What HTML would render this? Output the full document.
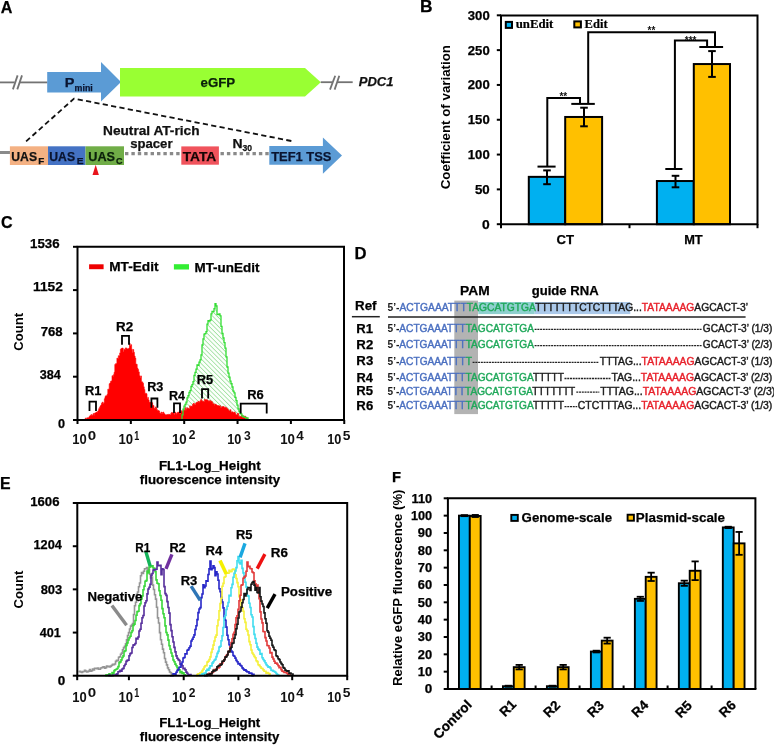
<!DOCTYPE html>
<html><head><meta charset="utf-8"><style>
html,body{margin:0;padding:0;background:#fff;}
svg{display:block;font-family:"Liberation Sans",sans-serif;filter:blur(0.3px);}
</style></head><body>
<svg width="774" height="746" viewBox="0 0 774 746">
<rect x="0" y="0" width="774" height="746" fill="#fff"/>
<text x="0.75" y="13.0" font-family="Liberation Sans" font-size="16" font-weight="bold" fill="#000" textLength="11.64" lengthAdjust="spacingAndGlyphs" stroke="#000" stroke-width="0.25" >A</text>
<line x1="0" y1="82.4" x2="14.6" y2="82.4" stroke="#737373" stroke-width="1.8" />
<line x1="19.2" y1="82.4" x2="47.5" y2="82.4" stroke="#737373" stroke-width="1.8" />
<line x1="12.9" y1="89.4" x2="17.6" y2="75.4" stroke="#737373" stroke-width="1.8" />
<line x1="17.3" y1="89.4" x2="22.0" y2="75.4" stroke="#737373" stroke-width="1.8" />
<path d="M47.2,72 H101 V62.1 L121,82.1 L101,101.5 V92.4 H47.2 Z" fill="#5b9bd5"/>
<text x="64.87" y="87.0" font-family="Liberation Sans" font-size="12.8" font-weight="bold" fill="#0a1430" textLength="9.68" lengthAdjust="spacingAndGlyphs" stroke="#0a1430" stroke-width="0.25" >P</text>
<text x="74.57" y="90.6" font-family="Liberation Sans" font-size="9.5" font-weight="bold" fill="#0a1430" textLength="18.20" lengthAdjust="spacingAndGlyphs" stroke="#0a1430" stroke-width="0.25" >mini</text>
<path d="M120,68 H305 L320.8,82.2 L305,96.6 H120 Z" fill="#99ff33"/>
<text x="200.52" y="87.2" font-family="Liberation Sans" font-size="12.6" font-weight="bold" fill="#0a200a" textLength="34.58" lengthAdjust="spacingAndGlyphs" stroke="#0a200a" stroke-width="0.25" >eGFP</text>
<line x1="320.7" y1="82.2" x2="332.4" y2="82.2" stroke="#737373" stroke-width="1.8" />
<line x1="337.0" y1="82.2" x2="352.7" y2="82.2" stroke="#737373" stroke-width="1.8" />
<line x1="330.0" y1="89.6" x2="335.2" y2="75.7" stroke="#737373" stroke-width="1.8" />
<line x1="334.6" y1="89.6" x2="339.3" y2="75.7" stroke="#737373" stroke-width="1.8" />
<text x="358.72" y="85.6" font-family="Liberation Sans" font-size="13" font-weight="bold" font-style="italic" fill="#111" textLength="34.81" lengthAdjust="spacingAndGlyphs" stroke="#111" stroke-width="0.25" >PDC1</text>
<path d="M26.1,141.4 L74.0,98.6 L291.4,141" fill="none" stroke="#111" stroke-width="1.8" stroke-dasharray="5.2,3.3"/>
<line x1="0" y1="152.5" x2="10" y2="152.5" stroke="#8a8a8a" stroke-width="3" />
<rect x="9.9" y="146.3" width="38.1" height="18.7" fill="#f4b183" stroke="none" stroke-width="0" />
<rect x="48.0" y="146.3" width="37.5" height="18.7" fill="#4472c4" stroke="none" stroke-width="0" />
<rect x="85.5" y="146.3" width="38.5" height="18.7" fill="#70ad47" stroke="none" stroke-width="0" />
<text x="11.32" y="160.6" font-family="Liberation Sans" font-size="13.0" font-weight="bold" fill="#111" textLength="25.70" lengthAdjust="spacingAndGlyphs" stroke="#111" stroke-width="0.25" >UAS</text>
<text x="38.18" y="163.9" font-family="Liberation Sans" font-size="9.8" font-weight="bold" fill="#111" textLength="6.02" lengthAdjust="spacingAndGlyphs" stroke="#111" stroke-width="0.25" >F</text>
<text x="49.32" y="160.6" font-family="Liberation Sans" font-size="13.0" font-weight="bold" fill="#0a1430" textLength="25.70" lengthAdjust="spacingAndGlyphs" stroke="#0a1430" stroke-width="0.25" >UAS</text>
<text x="76.66" y="163.9" font-family="Liberation Sans" font-size="9.8" font-weight="bold" fill="#0a1430" textLength="6.79" lengthAdjust="spacingAndGlyphs" stroke="#0a1430" stroke-width="0.25" >E</text>
<text x="88.29" y="160.6" font-family="Liberation Sans" font-size="13.0" font-weight="bold" fill="#0a200a" textLength="26.75" lengthAdjust="spacingAndGlyphs" stroke="#0a200a" stroke-width="0.25" >UAS</text>
<text x="115.99" y="163.9" font-family="Liberation Sans" font-size="9.8" font-weight="bold" fill="#0a200a" textLength="6.51" lengthAdjust="spacingAndGlyphs" stroke="#0a200a" stroke-width="0.25" >C</text>
<path d="M95.7,164.7 L98.9,174.9 L92.5,174.9 Z" fill="#e8141c"/>
<line x1="125" y1="153.6" x2="181" y2="153.6" stroke="#8a8a8a" stroke-width="3.4" stroke-dasharray="3.4,3.0"/>
<line x1="220.5" y1="153.6" x2="269" y2="153.6" stroke="#8a8a8a" stroke-width="3.4" stroke-dasharray="3.4,3.0"/>
<rect x="181.3" y="146.4" width="37.6" height="18.3" fill="#f0535c" stroke="none" stroke-width="0" />
<text x="182.71" y="160.6" font-family="Liberation Sans" font-size="12.8" font-weight="bold" fill="#150505" textLength="33.59" lengthAdjust="spacingAndGlyphs" stroke="#150505" stroke-width="0.25" >TATA</text>
<text x="103.03" y="134.8" font-family="Liberation Sans" font-size="12.4" font-weight="bold" fill="#111" textLength="96.47" lengthAdjust="spacingAndGlyphs" stroke="#111" stroke-width="0.25" >Neutral AT-rich</text>
<text x="130.19" y="148.0" font-family="Liberation Sans" font-size="12.4" font-weight="bold" fill="#111" textLength="42.35" lengthAdjust="spacingAndGlyphs" stroke="#111" stroke-width="0.25" >spacer</text>
<text x="232.41" y="148.4" font-family="Liberation Sans" font-size="12.6" font-weight="bold" fill="#111" textLength="10.08" lengthAdjust="spacingAndGlyphs" stroke="#111" stroke-width="0.25" >N</text>
<text x="242.46" y="151.3" font-family="Liberation Sans" font-size="8.8" font-weight="bold" fill="#111" textLength="9.56" lengthAdjust="spacingAndGlyphs" stroke="#111" stroke-width="0.25" >30</text>
<path d="M269.3,146 H322.9 V137.6 L342,155.5 L322.9,173.7 V164.8 H269.3 Z" fill="#5b9bd5"/>
<text x="271.22" y="160.7" font-family="Liberation Sans" font-size="12.8" font-weight="bold" fill="#0a1430" textLength="60.25" lengthAdjust="spacingAndGlyphs" stroke="#0a1430" stroke-width="0.25" >TEF1 TSS</text>
<text x="420.08" y="11.9" font-family="Liberation Sans" font-size="16" font-weight="bold" fill="#000" textLength="12.55" lengthAdjust="spacingAndGlyphs" stroke="#000" stroke-width="0.25" >B</text>
<rect x="528.8" y="176.8516" width="36.40000000000009" height="47.3484" fill="#00b0f0" stroke="#000" stroke-width="2" />
<rect x="565.2" y="116.96979999999998" width="36.89999999999998" height="107.23020000000001" fill="#ffc000" stroke="#000" stroke-width="2" />
<rect x="656.9" y="181.02939999999998" width="36.89999999999998" height="43.17060000000001" fill="#00b0f0" stroke="#000" stroke-width="2" />
<rect x="693.8" y="64.05099999999999" width="36.200000000000045" height="160.149" fill="#ffc000" stroke="#000" stroke-width="2" />
<path d="M501,224.2 V15.5 H757.5 V224.2 Z" fill="none" stroke="#000" stroke-width="2"/>
<line x1="496.8" y1="224.2" x2="501" y2="224.2" stroke="#000" stroke-width="2" />
<text x="482.02" y="228.7" font-family="Liberation Sans" font-size="12.8" font-weight="bold" fill="#000" textLength="7.70" lengthAdjust="spacingAndGlyphs" stroke="#000" stroke-width="0.25" >0</text>
<line x1="496.8" y1="189.385" x2="501" y2="189.385" stroke="#000" stroke-width="2" />
<text x="474.94" y="193.88" font-family="Liberation Sans" font-size="12.8" font-weight="bold" fill="#000" textLength="14.77" lengthAdjust="spacingAndGlyphs" stroke="#000" stroke-width="0.25" >50</text>
<line x1="496.8" y1="154.57" x2="501" y2="154.57" stroke="#000" stroke-width="2" />
<text x="467.80" y="159.07" font-family="Liberation Sans" font-size="12.8" font-weight="bold" fill="#000" textLength="21.89" lengthAdjust="spacingAndGlyphs" stroke="#000" stroke-width="0.25" >100</text>
<line x1="496.8" y1="119.75499999999998" x2="501" y2="119.75499999999998" stroke="#000" stroke-width="2" />
<text x="467.80" y="124.25" font-family="Liberation Sans" font-size="12.8" font-weight="bold" fill="#000" textLength="21.89" lengthAdjust="spacingAndGlyphs" stroke="#000" stroke-width="0.25" >150</text>
<line x1="496.8" y1="84.93999999999997" x2="501" y2="84.93999999999997" stroke="#000" stroke-width="2" />
<text x="467.81" y="89.44" font-family="Liberation Sans" font-size="12.8" font-weight="bold" fill="#000" textLength="21.88" lengthAdjust="spacingAndGlyphs" stroke="#000" stroke-width="0.25" >200</text>
<line x1="496.8" y1="50.12499999999997" x2="501" y2="50.12499999999997" stroke="#000" stroke-width="2" />
<text x="467.81" y="54.62" font-family="Liberation Sans" font-size="12.8" font-weight="bold" fill="#000" textLength="21.88" lengthAdjust="spacingAndGlyphs" stroke="#000" stroke-width="0.25" >250</text>
<line x1="496.8" y1="15.309999999999974" x2="501" y2="15.309999999999974" stroke="#000" stroke-width="2" />
<text x="467.81" y="19.81" font-family="Liberation Sans" font-size="12.8" font-weight="bold" fill="#000" textLength="21.88" lengthAdjust="spacingAndGlyphs" stroke="#000" stroke-width="0.25" >300</text>
<line x1="501" y1="224.2" x2="501" y2="228.2" stroke="#000" stroke-width="2" />
<line x1="629.5" y1="224.2" x2="629.5" y2="228.2" stroke="#000" stroke-width="2" />
<line x1="757.5" y1="224.2" x2="757.5" y2="228.2" stroke="#000" stroke-width="2" />
<text x="556.42" y="243.9" font-family="Liberation Sans" font-size="12.6" font-weight="bold" fill="#000" textLength="17.57" lengthAdjust="spacingAndGlyphs" stroke="#000" stroke-width="0.25" >CT</text>
<text x="684.18" y="243.8" font-family="Liberation Sans" font-size="12.6" font-weight="bold" fill="#000" textLength="18.51" lengthAdjust="spacingAndGlyphs" stroke="#000" stroke-width="0.25" >MT</text>
<line x1="547" y1="170.4" x2="547" y2="184.2" stroke="#000" stroke-width="2" />
<line x1="543.2" y1="170.4" x2="550.8" y2="170.4" stroke="#000" stroke-width="2" />
<line x1="543.2" y1="184.2" x2="550.8" y2="184.2" stroke="#000" stroke-width="2" />
<line x1="584" y1="107.7" x2="584" y2="126.3" stroke="#000" stroke-width="2" />
<line x1="580.2" y1="107.7" x2="587.8" y2="107.7" stroke="#000" stroke-width="2" />
<line x1="580.2" y1="126.3" x2="587.8" y2="126.3" stroke="#000" stroke-width="2" />
<line x1="675.5" y1="175.8" x2="675.5" y2="187.3" stroke="#000" stroke-width="2" />
<line x1="671.7" y1="175.8" x2="679.3" y2="175.8" stroke="#000" stroke-width="2" />
<line x1="671.7" y1="187.3" x2="679.3" y2="187.3" stroke="#000" stroke-width="2" />
<line x1="712" y1="51.1" x2="712" y2="76.9" stroke="#000" stroke-width="2" />
<line x1="708.2" y1="51.1" x2="715.8" y2="51.1" stroke="#000" stroke-width="2" />
<line x1="708.2" y1="76.9" x2="715.8" y2="76.9" stroke="#000" stroke-width="2" />
<line x1="537.5" y1="166.6" x2="555.6" y2="166.6" stroke="#000" stroke-width="2" />
<path d="M547.3,166.6 V98 H580 V103.9" fill="none" stroke="#000" stroke-width="2"/>
<line x1="571.3" y1="103.9" x2="594.8" y2="103.9" stroke="#000" stroke-width="2" />
<path d="M588.2,103.9 V32.2 H715 V47" fill="none" stroke="#000" stroke-width="2"/>
<line x1="699.3" y1="47" x2="723.1" y2="47" stroke="#000" stroke-width="2" />
<line x1="665.3" y1="169" x2="682.4" y2="169" stroke="#000" stroke-width="2" />
<path d="M674.9,169 V40.5 H707.1 V47" fill="none" stroke="#000" stroke-width="2"/>
<text x="563.3" y="100.2" font-size="10" font-weight="bold" text-anchor="middle" fill="#111">**</text>
<text x="651.4" y="34.0" font-size="10" font-weight="bold" text-anchor="middle" fill="#111">**</text>
<text x="690.6" y="43.6" font-size="10" font-weight="bold" text-anchor="middle" fill="#111">***</text>
<rect x="505.8" y="21.9" width="6.2" height="6.0" fill="#00b0f0" stroke="#000" stroke-width="2" />
<text x="515.66" y="28.4" font-family="Liberation Serif" font-size="12.2" font-weight="bold" fill="#000" textLength="37.74" lengthAdjust="spacingAndGlyphs" stroke="#000" stroke-width="0.2" >unEdit</text>
<rect x="574.3" y="21.4" width="6.6" height="6.0" fill="#ffc000" stroke="#000" stroke-width="2" />
<text x="584.63" y="28.3" font-family="Liberation Serif" font-size="12.2" font-weight="bold" fill="#000" textLength="22.97" lengthAdjust="spacingAndGlyphs" stroke="#000" stroke-width="0.2" >Edit</text>
<text x="0" y="0" font-size="12.8" font-weight="bold" fill="#000" textLength="144.33" lengthAdjust="spacingAndGlyphs" transform="translate(450.4,189.33) rotate(-90)">Coefficient of variation</text>
<text x="0.91" y="227.6" font-family="Liberation Sans" font-size="16" font-weight="bold" fill="#000" textLength="11.58" lengthAdjust="spacingAndGlyphs" stroke="#000" stroke-width="0.25" >C</text>
<defs><pattern id="hatch" patternUnits="userSpaceOnUse" width="3.2" height="3.2" patternTransform="rotate(-45)"><rect width="3.2" height="3.2" fill="#fbfffb"/><line x1="0" y1="0" x2="0" y2="3.2" stroke="#66cc66" stroke-width="1.0"/></pattern></defs>
<path d="M181.0,420.0H182.0V414.8H183.0V409.1H184.0V406.2H185.0V404.5H186.0V402.2H187.0V397.9H188.0V395.6H189.0V392.3H190.0V390.7H191.0V386.5H192.0V384.7H193.0V381.7H194.0V375.3H195.0V372.3H196.0V369.1H197.0V364.8H198.0V365.4H199.0V362.1H200.0V359.9H201.0V354.8H202.0V345.0H203.0V338.9H204.0V334.1H205.0V333.6H206.0V331.6H207.0V324.1H208.0V320.7H209.0V321.1H210.0V320.1H211.0V313.8H212.0V311.3H213.0V311.7H214.0V308.7H215.0V303.6H216.0V305.8H217.0V314.4H218.0V314.6H219.0V313.9H220.0V315.8H221.0V326.4H222.0V333.4H223.0V338.0H224.0V342.7H225.0V348.1H226.0V356.8H227.0V367.0H228.0V373.2H229.0V377.1H230.0V381.1H231.0V383.7H232.0V387.0H233.0V391.1H234.0V392.9H235.0V397.3H236.0V400.6H237.0V405.2H238.0V408.8H239.0V411.5H240.0V413.3H241.0V414.2H242.0V416.0H243.0V416.3H244.0V417.3H245.0V417.3H246.0V418.0H247.0V418.0H248.0V419.2V420H181.0Z" fill="url(#hatch)" stroke="none"/>
<path d="M84.0,419.3H84.7V420.0H85.4V418.0H86.1V419.4H86.8V417.8H87.5V417.8H88.2V417.8H88.9V416.8H89.6V415.9H90.3V415.3H91.0V414.6H91.7V416.1H92.4V414.9H93.1V413.6H93.8V415.3H94.5V413.1H95.2V413.0H95.9V412.1H96.6V412.5H97.3V411.6H98.0V410.8H98.7V408.7H99.4V407.4H100.1V406.0H100.8V405.0H101.5V403.2H102.2V402.1H102.9V403.8H103.6V402.7H104.3V398.7H105.0V396.6H105.7V395.7H106.4V395.8H107.1V394.3H107.8V389.2H108.5V389.2H109.2V383.8H109.9V383.0H110.6V381.2H111.3V380.9H112.0V375.7H112.7V376.5H113.4V374.7H114.1V372.3H114.8V364.4H115.5V363.7H116.2V363.6H116.9V358.1H117.6V358.8H118.3V355.7H119.0V355.7H119.7V352.9H120.4V349.2H121.1V348.6H121.8V348.0H122.5V348.1H123.2V351.8H123.9V349.2H124.6V349.8H125.3V347.9H126.0V347.9H126.7V348.7H127.4V349.1H128.1V348.8H128.8V348.1H129.5V343.5H130.2V345.7H130.9V344.7H131.6V349.2H132.3V352.4H133.0V349.5H133.7V352.3H134.4V356.0H135.1V358.1H135.8V364.1H136.5V364.3H137.2V368.1H137.9V369.5H138.6V371.9H139.3V375.7H140.0V377.7H140.7V375.9H141.4V381.7H142.1V381.9H142.8V383.3H143.5V386.8H144.2V389.5H144.9V393.4H145.6V393.2H146.3V393.8H147.0V398.7H147.7V397.4H148.4V399.9H149.1V402.3H149.8V402.0H150.5V402.6H151.2V404.6H151.9V402.7H152.6V405.3H153.3V405.6H154.0V408.3H154.7V408.5H155.4V406.9H156.1V408.1H156.8V409.7H157.5V411.1H158.2V410.5H158.9V411.0H159.6V413.0H160.3V413.4H161.0V412.1H161.7V413.9H162.4V412.5H163.1V412.0H163.8V413.5H164.5V414.1H165.2V414.9H165.9V415.1H166.6V414.6H167.3V414.5H168.0V414.4H168.7V414.3H169.4V414.5H170.1V415.1H170.8V413.3H171.5V412.4H172.2V412.8H172.9V412.7H173.6V413.1H174.3V414.4H175.0V412.2H175.7V413.3H176.4V414.3H177.1V412.7H177.8V412.0H178.5V412.5H179.2V411.9H179.9V413.9H180.6V411.7H181.3V410.7H182.0V411.5H182.7V410.9H183.4V409.8H184.1V410.5H184.8V407.6H185.5V410.2H186.2V408.8H186.9V407.7H187.6V409.1H188.3V408.3H189.0V409.0H189.7V405.8H190.4V406.9H191.1V406.1H191.8V406.3H192.5V404.5H193.2V403.3H193.9V404.6H194.6V403.5H195.3V404.8H196.0V402.7H196.7V402.0H197.4V402.2H198.1V401.3H198.8V402.5H199.5V401.6H200.2V400.5H200.9V399.4H201.6V400.7H202.3V401.2H203.0V401.2H203.7V402.0H204.4V399.2H205.1V399.9H205.8V399.9H206.5V399.6H207.2V400.0H207.9V400.7H208.6V401.3H209.3V400.7H210.0V400.6H210.7V401.5H211.4V401.3H212.1V402.2H212.8V403.7H213.5V403.7H214.2V405.3H214.9V404.1H215.6V404.4H216.3V405.0H217.0V405.5H217.7V405.5H218.4V405.7H219.1V406.1H219.8V405.7H220.5V407.4H221.2V407.2H221.9V406.6H222.6V406.8H223.3V406.5H224.0V407.7H224.7V406.9H225.4V407.7H226.1V407.6H226.8V408.5H227.5V409.0H228.2V410.0H228.9V410.9H229.6V410.8H230.3V409.7H231.0V412.2H231.7V412.1H232.4V411.8H233.1V412.6H233.8V412.5H234.5V411.9H235.2V413.6H235.9V415.0H236.6V414.7H237.3V413.4H238.0V413.6H238.7V416.2H239.4V416.5H240.1V416.4H240.8V416.7H241.5V415.3H242.2V417.4H242.9V415.9H243.6V416.1H244.3V417.0H245.0V416.2H245.7V418.9H246.4V417.5H247.1V419.5H247.8V419.6H248.5V420.0V420H84.0Z" fill="#ff0000" stroke="#f00" stroke-width="0.6"/>
<path d="M181.0,420.0H182.0V414.8H183.0V409.1H184.0V406.2H185.0V404.5H186.0V402.2H187.0V397.9H188.0V395.6H189.0V392.3H190.0V390.7H191.0V386.5H192.0V384.7H193.0V381.7H194.0V375.3H195.0V372.3H196.0V369.1H197.0V364.8H198.0V365.4H199.0V362.1H200.0V359.9H201.0V354.8H202.0V345.0H203.0V338.9H204.0V334.1H205.0V333.6H206.0V331.6H207.0V324.1H208.0V320.7H209.0V321.1H210.0V320.1H211.0V313.8H212.0V311.3H213.0V311.7H214.0V308.7H215.0V303.6H216.0V305.8H217.0V314.4H218.0V314.6H219.0V313.9H220.0V315.8H221.0V326.4H222.0V333.4H223.0V338.0H224.0V342.7H225.0V348.1H226.0V356.8H227.0V367.0H228.0V373.2H229.0V377.1H230.0V381.1H231.0V383.7H232.0V387.0H233.0V391.1H234.0V392.9H235.0V397.3H236.0V400.6H237.0V405.2H238.0V408.8H239.0V411.5H240.0V413.3H241.0V414.2H242.0V416.0H243.0V416.3H244.0V417.3H245.0V417.3H246.0V418.0H247.0V418.0H248.0V419.2" fill="none" stroke="#33dd33" stroke-width="1.3"/>
<path d="M77.5,420 V246.8 H344 V420 Z" fill="none" stroke="#000" stroke-width="2"/>
<line x1="73.0" y1="420.0" x2="77.5" y2="420.0" stroke="#000" stroke-width="2" />
<line x1="73.0" y1="376.7" x2="77.5" y2="376.7" stroke="#000" stroke-width="2" />
<line x1="73.0" y1="333.40000000000003" x2="77.5" y2="333.40000000000003" stroke="#000" stroke-width="2" />
<line x1="73.0" y1="290.1" x2="77.5" y2="290.1" stroke="#000" stroke-width="2" />
<line x1="73.0" y1="246.80000000000004" x2="77.5" y2="246.80000000000004" stroke="#000" stroke-width="2" />
<text x="30.02" y="248.3" font-family="Liberation Sans" font-size="13" font-weight="bold" fill="#000" textLength="29.52" lengthAdjust="spacingAndGlyphs" stroke="#000" stroke-width="0.25" >1536</text>
<text x="33.09" y="290.9" font-family="Liberation Sans" font-size="13" font-weight="bold" fill="#000" textLength="29.70" lengthAdjust="spacingAndGlyphs" stroke="#000" stroke-width="0.25" >1152</text>
<text x="40.69" y="336.3" font-family="Liberation Sans" font-size="13" font-weight="bold" fill="#000" textLength="21.97" lengthAdjust="spacingAndGlyphs" stroke="#000" stroke-width="0.25" >768</text>
<text x="39.76" y="379.0" font-family="Liberation Sans" font-size="13" font-weight="bold" fill="#000" textLength="21.16" lengthAdjust="spacingAndGlyphs" stroke="#000" stroke-width="0.25" >384</text>
<text x="57.94" y="427.5" font-family="Liberation Sans" font-size="13" font-weight="bold" fill="#000" textLength="7.03" lengthAdjust="spacingAndGlyphs" stroke="#000" stroke-width="0.25" >0</text>
<line x1="77.5" y1="420" x2="77.5" y2="424" stroke="#000" stroke-width="2" />
<line x1="130.85" y1="420" x2="130.85" y2="424" stroke="#000" stroke-width="2" />
<line x1="184.2" y1="420" x2="184.2" y2="424" stroke="#000" stroke-width="2" />
<line x1="237.55" y1="420" x2="237.55" y2="424" stroke="#000" stroke-width="2" />
<line x1="290.9" y1="420" x2="290.9" y2="424" stroke="#000" stroke-width="2" />
<line x1="344.25" y1="420" x2="344.25" y2="424" stroke="#000" stroke-width="2" />
<text x="72.29" y="444.2" font-family="Liberation Sans" font-size="14" font-weight="bold" fill="#111" textLength="14.46" lengthAdjust="spacingAndGlyphs" stroke="#111" stroke-width="0" >10</text>
<text x="87.69" y="439.6" font-family="Liberation Sans" font-size="13.4" font-weight="bold" fill="#111" textLength="8.43" lengthAdjust="spacingAndGlyphs" stroke="#111" stroke-width="0" >0</text>
<text x="118.58" y="444.2" font-family="Liberation Sans" font-size="14" font-weight="bold" fill="#111" textLength="14.57" lengthAdjust="spacingAndGlyphs" stroke="#111" stroke-width="0" >10</text>
<text x="134.34" y="439.8" font-family="Liberation Sans" font-size="13.4" font-weight="bold" fill="#111" textLength="5.02" lengthAdjust="spacingAndGlyphs" stroke="#111" stroke-width="0" >1</text>
<text x="171.97" y="444.2" font-family="Liberation Sans" font-size="14" font-weight="bold" fill="#111" textLength="14.79" lengthAdjust="spacingAndGlyphs" stroke="#111" stroke-width="0" >10</text>
<text x="188.68" y="439.4" font-family="Liberation Sans" font-size="13.4" font-weight="bold" fill="#111" textLength="6.69" lengthAdjust="spacingAndGlyphs" stroke="#111" stroke-width="0" >2</text>
<text x="227.21" y="444.2" font-family="Liberation Sans" font-size="14" font-weight="bold" fill="#111" textLength="14.13" lengthAdjust="spacingAndGlyphs" stroke="#111" stroke-width="0" >10</text>
<text x="244.03" y="439.5" font-family="Liberation Sans" font-size="13.4" font-weight="bold" fill="#111" textLength="6.71" lengthAdjust="spacingAndGlyphs" stroke="#111" stroke-width="0" >3</text>
<text x="280.17" y="444.2" font-family="Liberation Sans" font-size="14" font-weight="bold" fill="#111" textLength="14.79" lengthAdjust="spacingAndGlyphs" stroke="#111" stroke-width="0" >10</text>
<text x="296.30" y="440.0" font-family="Liberation Sans" font-size="13.4" font-weight="bold" fill="#111" textLength="7.48" lengthAdjust="spacingAndGlyphs" stroke="#111" stroke-width="0" >4</text>
<text x="327.31" y="444.2" font-family="Liberation Sans" font-size="14" font-weight="bold" fill="#111" textLength="14.13" lengthAdjust="spacingAndGlyphs" stroke="#111" stroke-width="0" >10</text>
<text x="342.88" y="440.0" font-family="Liberation Sans" font-size="13.4" font-weight="bold" fill="#111" textLength="7.71" lengthAdjust="spacingAndGlyphs" stroke="#111" stroke-width="0" >5</text>
<rect x="89.1" y="264.3" width="14.5" height="4.9" fill="#ee0000" stroke="none" stroke-width="0" />
<text x="109.23" y="271.3" font-family="Liberation Sans" font-size="12.8" font-weight="bold" fill="#000" textLength="49.30" lengthAdjust="spacingAndGlyphs" stroke="#000" stroke-width="0.25" >MT-Edit</text>
<rect x="173.9" y="264.2" width="15.1" height="5.3" fill="#33ee33" stroke="none" stroke-width="0" />
<text x="194.44" y="271.6" font-family="Liberation Sans" font-size="12.8" font-weight="bold" fill="#000" textLength="64.97" lengthAdjust="spacingAndGlyphs" stroke="#000" stroke-width="0.25" >MT-unEdit</text>
<text x="0" y="0" font-size="13" font-weight="bold" fill="#000" textLength="37.89" lengthAdjust="spacingAndGlyphs" transform="translate(22.8,350.82) rotate(-90)">Count</text>
<text x="158.95" y="469.5" font-family="Liberation Sans" font-size="12.6" font-weight="bold" fill="#000" textLength="101.78" lengthAdjust="spacingAndGlyphs" stroke="#000" stroke-width="0.25" >FL1-Log_Height</text>
<text x="139.82" y="484.4" font-family="Liberation Sans" font-size="12.6" font-weight="bold" fill="#000" textLength="140.22" lengthAdjust="spacingAndGlyphs" stroke="#000" stroke-width="0.25" >fluorescence intensity</text>
<path d="M89.5,411 V401.6 H96 V411" fill="none" stroke="#000" stroke-width="1.8"/>
<path d="M122,344.8 V335.9 H129 V344.8" fill="none" stroke="#000" stroke-width="1.8"/>
<path d="M151.4,407.8 V398.5 H157.4 V407.8" fill="none" stroke="#000" stroke-width="1.8"/>
<path d="M174,413 V403.3 H180 V413" fill="none" stroke="#000" stroke-width="1.8"/>
<path d="M202,398.5 V389.2 H208.2 V398.5" fill="none" stroke="#000" stroke-width="1.8"/>
<path d="M240.7,413.5 V403.7 H266.7 V413.5" fill="none" stroke="#000" stroke-width="1.8"/>
<text x="85.08" y="395.4" font-family="Liberation Sans" font-size="12.8" font-weight="bold" fill="#000" textLength="16.43" lengthAdjust="spacingAndGlyphs" stroke="#000" stroke-width="0.25" >R1</text>
<text x="116.05" y="331" font-family="Liberation Sans" font-size="12.8" font-weight="bold" fill="#000" textLength="17.12" lengthAdjust="spacingAndGlyphs" stroke="#000" stroke-width="0.25" >R2</text>
<text x="147.20" y="390.7" font-family="Liberation Sans" font-size="12.8" font-weight="bold" fill="#000" textLength="16.10" lengthAdjust="spacingAndGlyphs" stroke="#000" stroke-width="0.25" >R3</text>
<text x="168.90" y="400" font-family="Liberation Sans" font-size="12.8" font-weight="bold" fill="#000" textLength="16.02" lengthAdjust="spacingAndGlyphs" stroke="#000" stroke-width="0.25" >R4</text>
<text x="196.78" y="384" font-family="Liberation Sans" font-size="12.8" font-weight="bold" fill="#000" textLength="16.43" lengthAdjust="spacingAndGlyphs" stroke="#000" stroke-width="0.25" >R5</text>
<text x="247.28" y="399.4" font-family="Liberation Sans" font-size="12.8" font-weight="bold" fill="#000" textLength="16.54" lengthAdjust="spacingAndGlyphs" stroke="#000" stroke-width="0.25" >R6</text>
<text x="354.53" y="259.4" font-family="Liberation Sans" font-size="16" font-weight="bold" fill="#000" textLength="12.03" lengthAdjust="spacingAndGlyphs" stroke="#000" stroke-width="0.25" >D</text>
<rect x="454.3" y="300.6" width="23.7" height="113.5" fill="#b3b3b3" stroke="none" stroke-width="0" />
<rect x="478.3" y="302.0" width="56.4" height="12.1" fill="#8fd0cf" stroke="none" stroke-width="0" />
<rect x="534.7" y="302.0" width="95.6" height="12.1" fill="#abc9ea" stroke="none" stroke-width="0" />
<text x="460.02" y="295.2" font-family="Liberation Sans" font-size="12.8" font-weight="bold" fill="#000" textLength="29.63" lengthAdjust="spacingAndGlyphs" stroke="#000" stroke-width="0.25" >PAM</text>
<text x="531.73" y="295.2" font-family="Liberation Sans" font-size="12.8" font-weight="bold" fill="#000" textLength="66.86" lengthAdjust="spacingAndGlyphs" stroke="#000" stroke-width="0.25" >guide RNA</text>
<text x="355.05" y="310.3" font-family="Liberation Sans" font-size="13" font-weight="bold" fill="#000" textLength="21.48" lengthAdjust="spacingAndGlyphs" stroke="#000" stroke-width="0.25" >Ref</text>
<line x1="351.9" y1="316.7" x2="379.8" y2="316.7" stroke="#222" stroke-width="1.5" />
<line x1="388.0" y1="316.9" x2="745.6" y2="316.9" stroke="#222" stroke-width="1.5" />
<text x="387.49" y="311.2" font-size="10.2" textLength="360.56" lengthAdjust="spacingAndGlyphs" xml:space="preserve"><tspan fill="#1a1a1a" font-weight="bold" stroke="#1a1a1a" stroke-width="0">5’-</tspan><tspan fill="#4a6fc0" font-weight="normal" stroke="#4a6fc0" stroke-width="0.4">ACTGAAATTT</tspan><tspan fill="#1fa85a" font-weight="normal" stroke="#1fa85a" stroke-width="0.4">TAGCATGTGA</tspan><tspan fill="#1a1a1a" font-weight="normal" stroke="#1a1a1a" stroke-width="0.4">TTTTTTTCTCTTTAG...</tspan><tspan fill="#e8202a" font-weight="normal" stroke="#e8202a" stroke-width="0.4">TATAAAAG</tspan><tspan fill="#1a1a1a" font-weight="normal" stroke="#1a1a1a" stroke-width="0.4">AGCACT-3’</tspan></text>
<text x="356.37" y="333.0" font-family="Liberation Sans" font-size="13" font-weight="bold" fill="#000" textLength="16.76" lengthAdjust="spacingAndGlyphs" stroke="#000" stroke-width="0.25" >R1</text>
<text x="387.49" y="331.8" font-size="10.2" textLength="146.53" lengthAdjust="spacingAndGlyphs" xml:space="preserve"><tspan fill="#1a1a1a" font-weight="bold" stroke="#1a1a1a" stroke-width="0">5’-</tspan><tspan fill="#4a6fc0" font-weight="normal" stroke="#4a6fc0" stroke-width="0.4">ACTGAAATTT</tspan><tspan fill="#1fa85a" font-weight="normal" stroke="#1fa85a" stroke-width="0.4">TAGCATGTGA</tspan></text>
<line x1="534.6" y1="329.4" x2="701.7" y2="329.4" stroke="#222" stroke-width="1.3" stroke-dasharray="2.0,0.75"/>
<text x="702.79" y="331.8" font-size="10.2" textLength="69.52" lengthAdjust="spacingAndGlyphs" xml:space="preserve"><tspan fill="#1a1a1a" font-weight="normal" stroke="#1a1a1a" stroke-width="0.4">GCACT-3’ (1/3)</tspan></text>
<text x="356.36" y="348.7" font-family="Liberation Sans" font-size="13" font-weight="bold" fill="#000" textLength="16.90" lengthAdjust="spacingAndGlyphs" stroke="#000" stroke-width="0.25" >R2</text>
<text x="387.49" y="348.0" font-size="10.2" textLength="146.53" lengthAdjust="spacingAndGlyphs" xml:space="preserve"><tspan fill="#1a1a1a" font-weight="bold" stroke="#1a1a1a" stroke-width="0">5’-</tspan><tspan fill="#4a6fc0" font-weight="normal" stroke="#4a6fc0" stroke-width="0.4">ACTGAAATTT</tspan><tspan fill="#1fa85a" font-weight="normal" stroke="#1fa85a" stroke-width="0.4">TAGCATGTGA</tspan></text>
<line x1="534.6" y1="345.6" x2="701.7" y2="345.6" stroke="#222" stroke-width="1.3" stroke-dasharray="2.0,0.75"/>
<text x="702.79" y="348.0" font-size="10.2" textLength="69.52" lengthAdjust="spacingAndGlyphs" xml:space="preserve"><tspan fill="#1a1a1a" font-weight="normal" stroke="#1a1a1a" stroke-width="0.4">GCACT-3’ (2/3)</tspan></text>
<text x="356.36" y="365.4" font-family="Liberation Sans" font-size="13" font-weight="bold" fill="#000" textLength="16.86" lengthAdjust="spacingAndGlyphs" stroke="#000" stroke-width="0.25" >R3</text>
<text x="387.49" y="364.7" font-size="10.2" textLength="84.46" lengthAdjust="spacingAndGlyphs" xml:space="preserve"><tspan fill="#1a1a1a" font-weight="bold" stroke="#1a1a1a" stroke-width="0">5’-</tspan><tspan fill="#4a6fc0" font-weight="normal" stroke="#4a6fc0" stroke-width="0.4">ACTGAAATTT</tspan><tspan fill="#1fa85a" font-weight="normal" stroke="#1fa85a" stroke-width="0.4">T</tspan></text>
<line x1="472.6" y1="362.3" x2="598.9" y2="362.3" stroke="#222" stroke-width="1.3" stroke-dasharray="2.0,0.75"/>
<text x="599.87" y="364.7" font-size="10.2" textLength="172.47" lengthAdjust="spacingAndGlyphs" xml:space="preserve"><tspan fill="#1a1a1a" font-weight="normal" stroke="#1a1a1a" stroke-width="0.4">TTTAG...</tspan><tspan fill="#e8202a" font-weight="normal" stroke="#e8202a" stroke-width="0.4">TATAAAAG</tspan><tspan fill="#1a1a1a" font-weight="normal" stroke="#1a1a1a" stroke-width="0.4">AGCACT-3’</tspan><tspan fill="#1a1a1a" font-weight="normal" stroke="#1a1a1a" stroke-width="0.4"> (1/3)</tspan></text>
<text x="356.38" y="381.6" font-family="Liberation Sans" font-size="13" font-weight="bold" fill="#000" textLength="16.44" lengthAdjust="spacingAndGlyphs" stroke="#000" stroke-width="0.25" >R4</text>
<text x="387.49" y="380.9" font-size="10.2" textLength="176.46" lengthAdjust="spacingAndGlyphs" xml:space="preserve"><tspan fill="#1a1a1a" font-weight="bold" stroke="#1a1a1a" stroke-width="0">5’-</tspan><tspan fill="#4a6fc0" font-weight="normal" stroke="#4a6fc0" stroke-width="0.4">ACTGAAATTT</tspan><tspan fill="#1fa85a" font-weight="normal" stroke="#1fa85a" stroke-width="0.4">TAGCATGTGA</tspan><tspan fill="#1a1a1a" font-weight="normal" stroke="#1a1a1a" stroke-width="0.4">TTTTT</tspan></text>
<line x1="564.5" y1="378.5" x2="610.6" y2="378.5" stroke="#222" stroke-width="1.3" stroke-dasharray="2.0,0.75"/>
<text x="611.57" y="380.9" font-size="10.2" textLength="160.75" lengthAdjust="spacingAndGlyphs" xml:space="preserve"><tspan fill="#1a1a1a" font-weight="normal" stroke="#1a1a1a" stroke-width="0.4">TAG...</tspan><tspan fill="#e8202a" font-weight="normal" stroke="#e8202a" stroke-width="0.4">TATAAAAG</tspan><tspan fill="#1a1a1a" font-weight="normal" stroke="#1a1a1a" stroke-width="0.4">AGCACT-3’</tspan><tspan fill="#1a1a1a" font-weight="normal" stroke="#1a1a1a" stroke-width="0.4"> (2/3)</tspan></text>
<text x="356.37" y="395.3" font-family="Liberation Sans" font-size="13" font-weight="bold" fill="#000" textLength="16.76" lengthAdjust="spacingAndGlyphs" stroke="#000" stroke-width="0.25" >R5</text>
<text x="387.50" y="394.6" font-size="10.2" textLength="187.74" lengthAdjust="spacingAndGlyphs" xml:space="preserve"><tspan fill="#1a1a1a" font-weight="bold" stroke="#1a1a1a" stroke-width="0">5’-</tspan><tspan fill="#4a6fc0" font-weight="normal" stroke="#4a6fc0" stroke-width="0.4">ACTGAAATTT</tspan><tspan fill="#1fa85a" font-weight="normal" stroke="#1fa85a" stroke-width="0.4">TAGCATGTGA</tspan><tspan fill="#1a1a1a" font-weight="normal" stroke="#1a1a1a" stroke-width="0.4">TTTTTTT</tspan></text>
<line x1="576.3" y1="392.2" x2="599.3" y2="392.2" stroke="#222" stroke-width="1.3" stroke-dasharray="2.0,0.75"/>
<text x="600.26" y="394.6" font-size="10.2" textLength="175.08" lengthAdjust="spacingAndGlyphs" xml:space="preserve"><tspan fill="#1a1a1a" font-weight="normal" stroke="#1a1a1a" stroke-width="0.4">TTTAG...</tspan><tspan fill="#e8202a" font-weight="normal" stroke="#e8202a" stroke-width="0.4">TATAAAAG</tspan><tspan fill="#1a1a1a" font-weight="normal" stroke="#1a1a1a" stroke-width="0.4">AGCACT-3’</tspan><tspan fill="#1a1a1a" font-weight="normal" stroke="#1a1a1a" stroke-width="0.4"> (2/3)</tspan></text>
<text x="356.36" y="409.8" font-family="Liberation Sans" font-size="13" font-weight="bold" fill="#000" textLength="16.86" lengthAdjust="spacingAndGlyphs" stroke="#000" stroke-width="0.25" >R6</text>
<text x="387.49" y="409.1" font-size="10.2" textLength="176.46" lengthAdjust="spacingAndGlyphs" xml:space="preserve"><tspan fill="#1a1a1a" font-weight="bold" stroke="#1a1a1a" stroke-width="0">5’-</tspan><tspan fill="#4a6fc0" font-weight="normal" stroke="#4a6fc0" stroke-width="0.4">ACTGAAATTT</tspan><tspan fill="#1fa85a" font-weight="normal" stroke="#1fa85a" stroke-width="0.4">TAGCATGTGA</tspan><tspan fill="#1a1a1a" font-weight="normal" stroke="#1a1a1a" stroke-width="0.4">TTTTT</tspan></text>
<line x1="564.5" y1="406.7" x2="577.2" y2="406.7" stroke="#222" stroke-width="1.3" stroke-dasharray="2.0,0.75"/>
<text x="577.88" y="409.1" font-size="10.2" textLength="194.46" lengthAdjust="spacingAndGlyphs" xml:space="preserve"><tspan fill="#1a1a1a" font-weight="normal" stroke="#1a1a1a" stroke-width="0.4">CTCTTTAG...</tspan><tspan fill="#e8202a" font-weight="normal" stroke="#e8202a" stroke-width="0.4">TATAAAAG</tspan><tspan fill="#1a1a1a" font-weight="normal" stroke="#1a1a1a" stroke-width="0.4">AGCACT-3’</tspan><tspan fill="#1a1a1a" font-weight="normal" stroke="#1a1a1a" stroke-width="0.4"> (1/3)</tspan></text>
<text x="-0.02" y="488.9" font-family="Liberation Sans" font-size="16" font-weight="bold" fill="#000" textLength="10.60" lengthAdjust="spacingAndGlyphs" stroke="#000" stroke-width="0.25" >E</text>
<path d="M78.5,671.8H79.5V671.3H80.5V672.0H81.5V672.4H82.5V671.6H83.5V671.5H84.5V670.3H85.5V671.1H86.5V671.9H87.5V671.6H88.5V671.1H89.5V669.5H90.5V671.1H91.5V670.8H92.5V669.0H93.5V669.9H94.5V668.3H95.5V668.3H96.5V668.6H97.5V668.0H98.5V669.3H99.5V669.3H100.5V668.0H101.5V667.8H102.5V667.1H103.5V666.8H104.5V668.1H105.5V667.6H106.5V666.0H107.5V666.8H108.5V666.2H109.5V666.9H110.5V666.1H111.5V665.2H112.5V664.4H113.5V664.7H114.5V664.0H115.5V661.4H116.5V660.2H117.5V660.6H118.5V657.2H119.5V656.7H120.5V654.2H121.5V653.1H122.5V649.7H123.5V647.6H124.5V646.3H125.5V643.7H126.5V639.8H127.5V635.5H128.5V632.6H129.5V629.0H130.5V626.1H131.5V625.1H132.5V623.5H133.5V614.5H134.5V605.7H135.5V602.2H136.5V594.2H137.5V592.0H138.5V586.8H139.5V583.0H140.5V575.8H141.5V572.6H142.5V573.4H143.5V571.2H144.5V568.8H145.5V568.8H146.5V567.6H147.5V571.7H148.5V569.2H149.5V574.1H150.5V578.0H151.5V577.0H152.5V585.1H153.5V589.5H154.5V594.8H155.5V599.1H156.5V607.3H157.5V617.9H158.5V623.0H159.5V632.6H160.5V639.8H161.5V644.3H162.5V649.1H163.5V652.8H164.5V658.5H165.5V662.1H166.5V664.9H167.5V667.9H168.5V669.7H169.5V672.0H170.5V672.7H171.5V675.3H172.5V675.4" fill="none" stroke="#959595" stroke-width="1.6"/>
<path d="M105.0,675.0H106.0V675.7H107.0V674.8H108.0V675.2H109.0V673.9H110.0V675.4H111.0V675.0H112.0V672.5H113.0V673.5H114.0V670.6H115.0V669.7H116.0V669.2H117.0V668.5H118.0V666.6H119.0V662.6H120.0V661.9H121.0V659.9H122.0V657.5H123.0V655.9H124.0V651.4H125.0V650.7H126.0V645.4H127.0V642.9H128.0V640.0H129.0V637.8H130.0V636.3H131.0V632.5H132.0V630.8H133.0V625.4H134.0V624.1H135.0V620.5H136.0V615.2H137.0V611.6H138.0V611.3H139.0V605.6H140.0V603.7H141.0V599.0H142.0V595.9H143.0V589.7H144.0V586.1H145.0V581.2H146.0V580.6H147.0V571.0H148.0V573.0H149.0V567.3H150.0V566.7H151.0V566.6H152.0V565.8H153.0V568.0H154.0V568.2H155.0V571.8H156.0V579.9H157.0V583.3H158.0V583.8H159.0V590.7H160.0V595.5H161.0V600.2H162.0V608.6H163.0V613.8H164.0V617.7H165.0V625.9H166.0V632.5H167.0V634.9H168.0V640.1H169.0V645.8H170.0V649.3H171.0V653.0H172.0V656.1H173.0V660.0H174.0V661.7H175.0V664.1H176.0V665.8H177.0V667.8H178.0V670.3H179.0V669.9H180.0V672.6H181.0V671.5H182.0V673.4H183.0V672.8H184.0V674.7H185.0V675.2H186.0V675.7H187.0V675.7" fill="none" stroke="#3ad63a" stroke-width="1.6"/>
<path d="M108.0,675.7H109.0V675.1H110.0V675.7H111.0V675.7H112.0V675.7H113.0V675.0H114.0V675.1H115.0V675.1H116.0V674.3H117.0V673.9H118.0V671.8H119.0V671.6H120.0V670.3H121.0V671.2H122.0V669.0H123.0V668.4H124.0V665.7H125.0V664.2H126.0V661.4H127.0V660.4H128.0V660.1H129.0V655.7H130.0V653.6H131.0V653.0H132.0V647.5H133.0V645.1H134.0V644.7H135.0V643.5H136.0V638.3H137.0V639.0H138.0V637.0H139.0V631.0H140.0V629.2H141.0V623.2H142.0V617.8H143.0V615.5H144.0V606.0H145.0V602.8H146.0V600.8H147.0V593.9H148.0V589.0H149.0V587.3H150.0V584.2H151.0V575.2H152.0V573.5H153.0V570.1H154.0V569.5H155.0V569.7H156.0V569.2H157.0V562.1H158.0V565.8H159.0V565.6H160.0V565.4H161.0V574.7H162.0V568.9H163.0V569.5H164.0V586.6H165.0V593.6H166.0V595.4H167.0V601.6H168.0V607.5H169.0V613.1H170.0V624.6H171.0V630.6H172.0V636.7H173.0V642.0H174.0V647.4H175.0V651.9H176.0V655.9H177.0V658.3H178.0V659.6H179.0V660.5H180.0V664.5H181.0V664.7H182.0V665.8H183.0V668.7H184.0V668.3H185.0V669.9H186.0V672.1H187.0V673.2H188.0V675.1H189.0V674.8H190.0V674.6H191.0V675.7" fill="none" stroke="#552e9c" stroke-width="1.6"/>
<path d="M170.0,675.7H171.0V675.7H172.0V675.7H173.0V673.9H174.0V673.8H175.0V674.3H176.0V672.2H177.0V670.4H178.0V669.5H179.0V667.3H180.0V667.1H181.0V663.8H182.0V662.0H183.0V658.0H184.0V657.5H185.0V653.8H186.0V653.9H187.0V650.2H188.0V649.6H189.0V647.8H190.0V646.1H191.0V641.0H192.0V639.2H193.0V637.2H194.0V634.9H195.0V629.5H196.0V625.8H197.0V619.6H198.0V612.6H199.0V609.0H200.0V607.6H201.0V597.6H202.0V594.0H203.0V584.7H204.0V587.7H205.0V586.0H206.0V580.7H207.0V581.2H208.0V574.5H209.0V568.9H210.0V561.1H211.0V569.8H212.0V568.5H213.0V565.7H214.0V567.6H215.0V575.7H216.0V571.8H217.0V574.0H218.0V580.2H219.0V588.7H220.0V591.8H221.0V597.4H222.0V602.0H223.0V607.9H224.0V617.5H225.0V620.2H226.0V627.1H227.0V635.3H228.0V639.7H229.0V644.8H230.0V647.9H231.0V651.0H232.0V652.1H233.0V655.5H234.0V656.2H235.0V658.1H236.0V660.4H237.0V661.8H238.0V663.9H239.0V663.5H240.0V665.2H241.0V666.0H242.0V667.9H243.0V669.0H244.0V670.1H245.0V669.9H246.0V671.1H247.0V671.9H248.0V671.7H249.0V673.3H250.0V673.1H251.0V673.3H252.0V675.7H253.0V674.4H254.0V675.7" fill="none" stroke="#2626c8" stroke-width="1.6"/>
<path d="M196.0,675.7H197.0V674.5H198.0V673.7H199.0V673.7H200.0V672.8H201.0V672.4H202.0V670.6H203.0V669.1H204.0V667.0H205.0V665.7H206.0V665.6H207.0V662.1H208.0V661.3H209.0V659.5H210.0V656.9H211.0V652.4H212.0V649.1H213.0V645.1H214.0V641.0H215.0V637.1H216.0V635.1H217.0V625.8H218.0V620.0H219.0V610.8H220.0V603.5H221.0V598.3H222.0V586.2H223.0V583.4H224.0V577.2H225.0V576.5H226.0V572.6H227.0V573.2H228.0V573.3H229.0V570.4H230.0V571.8H231.0V571.5H232.0V569.5H233.0V569.0H234.0V569.7H235.0V574.7H236.0V578.5H237.0V582.6H238.0V586.7H239.0V596.8H240.0V599.8H241.0V606.5H242.0V607.9H243.0V611.2H244.0V618.7H245.0V622.4H246.0V629.3H247.0V630.9H248.0V635.0H249.0V641.6H250.0V644.8H251.0V650.0H252.0V653.0H253.0V654.5H254.0V656.4H255.0V657.8H256.0V660.7H257.0V661.6H258.0V664.7H259.0V665.4H260.0V666.7H261.0V668.2H262.0V668.5H263.0V669.9H264.0V671.2H265.0V671.3H266.0V673.1H267.0V672.5H268.0V673.2H269.0V673.9H270.0V675.7" fill="none" stroke="#f5f03a" stroke-width="1.6"/>
<path d="M199.0,675.1H200.0V675.5H201.0V675.3H202.0V673.9H203.0V674.1H204.0V673.1H205.0V673.1H206.0V670.8H207.0V669.4H208.0V670.2H209.0V668.1H210.0V665.7H211.0V666.0H212.0V663.1H213.0V661.8H214.0V660.2H215.0V659.4H216.0V656.6H217.0V653.4H218.0V651.4H219.0V647.1H220.0V646.2H221.0V640.8H222.0V635.7H223.0V627.5H224.0V617.9H225.0V615.5H226.0V609.5H227.0V606.3H228.0V602.5H229.0V595.3H230.0V595.9H231.0V587.8H232.0V584.4H233.0V577.2H234.0V573.2H235.0V571.0H236.0V567.6H237.0V560.7H238.0V556.6H239.0V562.7H240.0V564.0H241.0V560.4H242.0V568.4H243.0V572.9H244.0V577.5H245.0V582.2H246.0V586.9H247.0V595.5H248.0V596.1H249.0V603.3H250.0V607.5H251.0V614.8H252.0V617.0H253.0V626.6H254.0V634.4H255.0V638.5H256.0V643.2H257.0V647.1H258.0V649.1H259.0V650.1H260.0V654.1H261.0V653.5H262.0V657.7H263.0V659.5H264.0V660.9H265.0V662.7H266.0V664.6H267.0V665.8H268.0V667.3H269.0V666.7H270.0V668.0H271.0V670.2H272.0V670.4H273.0V671.1H274.0V671.5H275.0V672.2H276.0V673.5H277.0V674.5H278.0V675.3H279.0V675.7H280.0V675.7" fill="none" stroke="#3fdcef" stroke-width="1.6"/>
<path d="M206.0,675.3H207.0V675.2H208.0V674.0H209.0V673.2H210.0V674.1H211.0V673.2H212.0V672.4H213.0V671.6H214.0V669.6H215.0V669.5H216.0V670.0H217.0V667.0H218.0V668.0H219.0V667.0H220.0V663.8H221.0V664.1H222.0V662.6H223.0V661.3H224.0V659.5H225.0V657.3H226.0V655.6H227.0V654.5H228.0V651.9H229.0V650.8H230.0V646.8H231.0V642.5H232.0V638.7H233.0V634.2H234.0V632.3H235.0V624.5H236.0V617.9H237.0V615.8H238.0V609.3H239.0V600.8H240.0V595.3H241.0V585.3H242.0V584.8H243.0V578.2H244.0V577.1H245.0V576.0H246.0V571.3H247.0V562.1H248.0V566.6H249.0V566.3H250.0V568.5H251.0V568.7H252.0V572.0H253.0V572.8H254.0V580.8H255.0V583.9H256.0V586.9H257.0V585.0H258.0V591.4H259.0V598.7H260.0V611.9H261.0V619.0H262.0V622.9H263.0V631.5H264.0V631.7H265.0V637.6H266.0V641.0H267.0V645.5H268.0V645.7H269.0V648.0H270.0V653.0H271.0V652.5H272.0V657.1H273.0V659.0H274.0V661.2H275.0V663.1H276.0V663.0H277.0V664.3H278.0V665.7H279.0V667.8H280.0V667.4H281.0V669.7H282.0V671.1H283.0V671.5H284.0V672.5H285.0V672.3H286.0V672.8H287.0V673.5H288.0V675.1H289.0V674.3H290.0V675.6" fill="none" stroke="#e23a3a" stroke-width="1.6"/>
<path d="M204.0,675.7H205.0V675.4H206.0V675.7H207.0V674.2H208.0V675.2H209.0V674.6H210.0V673.9H211.0V673.9H212.0V671.7H213.0V670.4H214.0V670.9H215.0V670.5H216.0V669.4H217.0V666.7H218.0V666.0H219.0V665.4H220.0V665.2H221.0V664.4H222.0V661.3H223.0V661.1H224.0V659.7H225.0V657.1H226.0V656.7H227.0V655.0H228.0V651.4H229.0V652.0H230.0V648.6H231.0V647.2H232.0V643.4H233.0V643.0H234.0V638.2H235.0V634.6H236.0V628.8H237.0V624.3H238.0V618.0H239.0V612.0H240.0V611.0H241.0V607.1H242.0V602.7H243.0V599.5H244.0V593.6H245.0V595.9H246.0V593.6H247.0V589.4H248.0V587.5H249.0V587.5H250.0V590.5H251.0V584.2H252.0V582.5H253.0V581.6H254.0V585.1H255.0V590.1H256.0V587.6H257.0V592.5H258.0V593.0H259.0V587.5H260.0V596.8H261.0V601.1H262.0V604.0H263.0V606.5H264.0V612.9H265.0V618.7H266.0V623.2H267.0V630.7H268.0V632.3H269.0V636.3H270.0V638.2H271.0V640.3H272.0V645.4H273.0V647.2H274.0V649.8H275.0V650.5H276.0V655.7H277.0V656.5H278.0V658.7H279.0V659.6H280.0V662.0H281.0V663.6H282.0V664.7H283.0V667.6H284.0V668.2H285.0V670.1H286.0V670.8H287.0V671.2H288.0V670.8H289.0V673.1H290.0V673.0H291.0V674.0H292.0V674.0H293.0V675.0" fill="none" stroke="#151515" stroke-width="1.6"/>
<path d="M77.3,675.7 V503 H347.2 V675.7 Z" fill="none" stroke="#000" stroke-width="2"/>
<line x1="72.8" y1="675.7" x2="77.3" y2="675.7" stroke="#000" stroke-width="2" />
<line x1="72.8" y1="632.5787671232877" x2="77.3" y2="632.5787671232877" stroke="#000" stroke-width="2" />
<line x1="72.8" y1="589.35" x2="77.3" y2="589.35" stroke="#000" stroke-width="2" />
<line x1="72.8" y1="546.2287671232878" x2="77.3" y2="546.2287671232878" stroke="#000" stroke-width="2" />
<line x1="72.8" y1="503.0" x2="77.3" y2="503.0" stroke="#000" stroke-width="2" />
<text x="30.23" y="505.8" font-family="Liberation Sans" font-size="13" font-weight="bold" fill="#000" textLength="29.31" lengthAdjust="spacingAndGlyphs" stroke="#000" stroke-width="0.25" >1606</text>
<text x="33.45" y="548.6" font-family="Liberation Sans" font-size="13" font-weight="bold" fill="#000" textLength="28.39" lengthAdjust="spacingAndGlyphs" stroke="#000" stroke-width="0.25" >1204</text>
<text x="40.63" y="593.5" font-family="Liberation Sans" font-size="13" font-weight="bold" fill="#000" textLength="21.59" lengthAdjust="spacingAndGlyphs" stroke="#000" stroke-width="0.25" >803</text>
<text x="39.66" y="636.8" font-family="Liberation Sans" font-size="13" font-weight="bold" fill="#000" textLength="21.05" lengthAdjust="spacingAndGlyphs" stroke="#000" stroke-width="0.25" >401</text>
<text x="57.81" y="685.3" font-family="Liberation Sans" font-size="13" font-weight="bold" fill="#000" textLength="7.49" lengthAdjust="spacingAndGlyphs" stroke="#000" stroke-width="0.25" >0</text>
<line x1="77.2" y1="675.7" x2="77.2" y2="680.2" stroke="#000" stroke-width="2" />
<line x1="128.9" y1="675.7" x2="128.9" y2="680.2" stroke="#000" stroke-width="2" />
<line x1="183.7" y1="675.7" x2="183.7" y2="680.2" stroke="#000" stroke-width="2" />
<line x1="238.4" y1="675.7" x2="238.4" y2="680.2" stroke="#000" stroke-width="2" />
<line x1="292.2" y1="675.7" x2="292.2" y2="680.2" stroke="#000" stroke-width="2" />
<line x1="347.2" y1="675.7" x2="347.2" y2="680.2" stroke="#000" stroke-width="2" />
<text x="72.29" y="701.5" font-family="Liberation Sans" font-size="14" font-weight="bold" fill="#111" textLength="14.46" lengthAdjust="spacingAndGlyphs" stroke="#111" stroke-width="0" >10</text>
<text x="87.69" y="696.9000000000001" font-family="Liberation Sans" font-size="13.4" font-weight="bold" fill="#111" textLength="8.43" lengthAdjust="spacingAndGlyphs" stroke="#111" stroke-width="0" >0</text>
<text x="118.58" y="701.5" font-family="Liberation Sans" font-size="14" font-weight="bold" fill="#111" textLength="14.57" lengthAdjust="spacingAndGlyphs" stroke="#111" stroke-width="0" >10</text>
<text x="134.34" y="697.1" font-family="Liberation Sans" font-size="13.4" font-weight="bold" fill="#111" textLength="5.02" lengthAdjust="spacingAndGlyphs" stroke="#111" stroke-width="0" >1</text>
<text x="171.97" y="701.5" font-family="Liberation Sans" font-size="14" font-weight="bold" fill="#111" textLength="14.79" lengthAdjust="spacingAndGlyphs" stroke="#111" stroke-width="0" >10</text>
<text x="188.68" y="696.7" font-family="Liberation Sans" font-size="13.4" font-weight="bold" fill="#111" textLength="6.69" lengthAdjust="spacingAndGlyphs" stroke="#111" stroke-width="0" >2</text>
<text x="227.21" y="701.5" font-family="Liberation Sans" font-size="14" font-weight="bold" fill="#111" textLength="14.13" lengthAdjust="spacingAndGlyphs" stroke="#111" stroke-width="0" >10</text>
<text x="244.03" y="696.8" font-family="Liberation Sans" font-size="13.4" font-weight="bold" fill="#111" textLength="6.71" lengthAdjust="spacingAndGlyphs" stroke="#111" stroke-width="0" >3</text>
<text x="280.17" y="701.5" font-family="Liberation Sans" font-size="14" font-weight="bold" fill="#111" textLength="14.79" lengthAdjust="spacingAndGlyphs" stroke="#111" stroke-width="0" >10</text>
<text x="296.30" y="697.3" font-family="Liberation Sans" font-size="13.4" font-weight="bold" fill="#111" textLength="7.48" lengthAdjust="spacingAndGlyphs" stroke="#111" stroke-width="0" >4</text>
<text x="327.31" y="701.5" font-family="Liberation Sans" font-size="14" font-weight="bold" fill="#111" textLength="14.13" lengthAdjust="spacingAndGlyphs" stroke="#111" stroke-width="0" >10</text>
<text x="342.88" y="697.3" font-family="Liberation Sans" font-size="13.4" font-weight="bold" fill="#111" textLength="7.71" lengthAdjust="spacingAndGlyphs" stroke="#111" stroke-width="0" >5</text>
<text x="0" y="0" font-size="13" font-weight="bold" fill="#000" textLength="37.69" lengthAdjust="spacingAndGlyphs" transform="translate(22.7,608.42) rotate(-90)">Count</text>
<text x="159.25" y="726.6" font-family="Liberation Sans" font-size="12.6" font-weight="bold" fill="#000" textLength="100.97" lengthAdjust="spacingAndGlyphs" stroke="#000" stroke-width="0.25" >FL1-Log_Height</text>
<text x="139.82" y="741.4" font-family="Liberation Sans" font-size="12.6" font-weight="bold" fill="#000" textLength="139.42" lengthAdjust="spacingAndGlyphs" stroke="#000" stroke-width="0.25" >fluorescence intensity</text>
<line x1="145.6" y1="550.8" x2="150.2" y2="566.2" stroke="#14b45a" stroke-width="3.4" />
<line x1="171.9" y1="554.4" x2="166.0" y2="568.9" stroke="#7030a0" stroke-width="3.4" />
<line x1="111.9" y1="605.6" x2="126.6" y2="625.3" stroke="#8a8a8a" stroke-width="3.4" />
<line x1="191.1" y1="586.2" x2="200.2" y2="600.3" stroke="#2e75b6" stroke-width="3.4" />
<line x1="245" y1="543.4" x2="240.1" y2="557.4" stroke="#1aa8e0" stroke-width="3.4" />
<line x1="264.9" y1="554.1" x2="257.2" y2="568.6" stroke="#ee1111" stroke-width="3.4" />
<line x1="275.0" y1="594.1" x2="267.2" y2="608.1" stroke="#000" stroke-width="3.4" />
<line x1="220.0" y1="560.5" x2="226.3" y2="574.0" stroke="#f5f000" stroke-width="3.6" />
<text x="135.36" y="551.7" font-family="Liberation Sans" font-size="12.8" font-weight="bold" fill="#000" textLength="15.03" lengthAdjust="spacingAndGlyphs" stroke="#000" stroke-width="0.25" >R1</text>
<text x="169.39" y="552.4" font-family="Liberation Sans" font-size="12.8" font-weight="bold" fill="#000" textLength="16.35" lengthAdjust="spacingAndGlyphs" stroke="#000" stroke-width="0.25" >R2</text>
<text x="180.67" y="584.9" font-family="Liberation Sans" font-size="12.8" font-weight="bold" fill="#000" textLength="16.65" lengthAdjust="spacingAndGlyphs" stroke="#000" stroke-width="0.25" >R3</text>
<text x="205.46" y="554.5" font-family="Liberation Sans" font-size="12.8" font-weight="bold" fill="#000" textLength="16.76" lengthAdjust="spacingAndGlyphs" stroke="#000" stroke-width="0.25" >R4</text>
<text x="236.08" y="539.2" font-family="Liberation Sans" font-size="12.8" font-weight="bold" fill="#000" textLength="16.43" lengthAdjust="spacingAndGlyphs" stroke="#000" stroke-width="0.25" >R5</text>
<text x="270.74" y="556.5" font-family="Liberation Sans" font-size="12.8" font-weight="bold" fill="#000" textLength="17.19" lengthAdjust="spacingAndGlyphs" stroke="#000" stroke-width="0.25" >R6</text>
<text x="87.46" y="601.4" font-family="Liberation Sans" font-size="12.8" font-weight="bold" fill="#000" textLength="54.93" lengthAdjust="spacingAndGlyphs" stroke="#000" stroke-width="0.25" >Negative</text>
<text x="280.95" y="595.9" font-family="Liberation Sans" font-size="12.8" font-weight="bold" fill="#000" textLength="51.13" lengthAdjust="spacingAndGlyphs" stroke="#000" stroke-width="0.25" >Positive</text>
<text x="392.05" y="481.7" font-family="Liberation Sans" font-size="15" font-weight="bold" fill="#000" textLength="9.03" lengthAdjust="spacingAndGlyphs" stroke="#000" stroke-width="0.25" >F</text>
<rect x="458.95" y="515.6363636363636" width="10.85" height="173.36363636363637" fill="#00b0f0" stroke="#000" stroke-width="1.9" />
<rect x="469.8" y="515.983090909091" width="10.85" height="173.01690909090905" fill="#ffc000" stroke="#000" stroke-width="1.9" />
<line x1="464.375" y1="515.1162727272728" x2="464.375" y2="516.1564545454546" stroke="#000" stroke-width="1.8" />
<line x1="460.775" y1="515.1162727272728" x2="467.975" y2="515.1162727272728" stroke="#000" stroke-width="1.8" />
<line x1="460.775" y1="516.1564545454546" x2="467.975" y2="516.1564545454546" stroke="#000" stroke-width="1.8" />
<line x1="475.225" y1="514.9429090909091" x2="475.225" y2="517.0232727272728" stroke="#000" stroke-width="1.8" />
<line x1="471.625" y1="514.9429090909091" x2="478.82500000000005" y2="514.9429090909091" stroke="#000" stroke-width="1.8" />
<line x1="471.625" y1="517.0232727272728" x2="478.82500000000005" y2="517.0232727272728" stroke="#000" stroke-width="1.8" />
<text x="0" y="0" font-size="13.5" font-weight="bold" text-anchor="end" stroke="#000" stroke-width="0.3" transform="translate(472.60,705.70) rotate(-45)">Control</text>
<rect x="502.92999999999995" y="686.2261818181818" width="10.85" height="2.7738181818182284" fill="#00b0f0" stroke="#000" stroke-width="1.9" />
<rect x="513.78" y="667.1561818181818" width="10.85" height="21.843818181818165" fill="#ffc000" stroke="#000" stroke-width="1.9" />
<line x1="508.35499999999996" y1="685.7060909090909" x2="508.35499999999996" y2="686.7462727272728" stroke="#000" stroke-width="1.8" />
<line x1="504.75499999999994" y1="685.7060909090909" x2="511.955" y2="685.7060909090909" stroke="#000" stroke-width="1.8" />
<line x1="504.75499999999994" y1="686.7462727272728" x2="511.955" y2="686.7462727272728" stroke="#000" stroke-width="1.8" />
<line x1="519.2049999999999" y1="664.9024545454546" x2="519.2049999999999" y2="669.4099090909091" stroke="#000" stroke-width="1.8" />
<line x1="515.6049999999999" y1="664.9024545454546" x2="522.805" y2="664.9024545454546" stroke="#000" stroke-width="1.8" />
<line x1="515.6049999999999" y1="669.4099090909091" x2="522.805" y2="669.4099090909091" stroke="#000" stroke-width="1.8" />
<text x="0" y="0" font-size="13.5" font-weight="bold" text-anchor="end" stroke="#000" stroke-width="0.3" transform="translate(517.10,705.30) rotate(-45)">R1</text>
<rect x="546.91" y="686.2261818181818" width="10.85" height="2.7738181818182284" fill="#00b0f0" stroke="#000" stroke-width="1.9" />
<rect x="557.76" y="667.1561818181818" width="10.85" height="21.843818181818165" fill="#ffc000" stroke="#000" stroke-width="1.9" />
<line x1="552.335" y1="685.7060909090909" x2="552.335" y2="686.7462727272728" stroke="#000" stroke-width="1.8" />
<line x1="548.735" y1="685.7060909090909" x2="555.9350000000001" y2="685.7060909090909" stroke="#000" stroke-width="1.8" />
<line x1="548.735" y1="686.7462727272728" x2="555.9350000000001" y2="686.7462727272728" stroke="#000" stroke-width="1.8" />
<line x1="563.185" y1="664.9024545454546" x2="563.185" y2="669.4099090909091" stroke="#000" stroke-width="1.8" />
<line x1="559.5849999999999" y1="664.9024545454546" x2="566.785" y2="664.9024545454546" stroke="#000" stroke-width="1.8" />
<line x1="559.5849999999999" y1="669.4099090909091" x2="566.785" y2="669.4099090909091" stroke="#000" stroke-width="1.8" />
<text x="0" y="0" font-size="13.5" font-weight="bold" text-anchor="end" stroke="#000" stroke-width="0.3" transform="translate(561.00,706.10) rotate(-45)">R2</text>
<rect x="590.89" y="651.5534545454545" width="10.85" height="37.44654545454546" fill="#00b0f0" stroke="#000" stroke-width="1.9" />
<rect x="601.74" y="640.6315454545454" width="10.85" height="48.3684545454546" fill="#ffc000" stroke="#000" stroke-width="1.9" />
<line x1="596.315" y1="650.6866363636364" x2="596.315" y2="652.4202727272727" stroke="#000" stroke-width="1.8" />
<line x1="592.715" y1="650.6866363636364" x2="599.9150000000001" y2="650.6866363636364" stroke="#000" stroke-width="1.8" />
<line x1="592.715" y1="652.4202727272727" x2="599.9150000000001" y2="652.4202727272727" stroke="#000" stroke-width="1.8" />
<line x1="607.165" y1="637.6843636363636" x2="607.165" y2="643.5787272727273" stroke="#000" stroke-width="1.8" />
<line x1="603.5649999999999" y1="637.6843636363636" x2="610.765" y2="637.6843636363636" stroke="#000" stroke-width="1.8" />
<line x1="603.5649999999999" y1="643.5787272727273" x2="610.765" y2="643.5787272727273" stroke="#000" stroke-width="1.8" />
<text x="0" y="0" font-size="13.5" font-weight="bold" text-anchor="end" stroke="#000" stroke-width="0.3" transform="translate(604.90,706.10) rotate(-45)">R3</text>
<rect x="634.87" y="598.8509090909091" width="10.85" height="90.14909090909089" fill="#00b0f0" stroke="#000" stroke-width="1.9" />
<rect x="645.72" y="576.8337272727273" width="10.85" height="112.16627272727271" fill="#ffc000" stroke="#000" stroke-width="1.9" />
<line x1="640.2950000000001" y1="596.7705454545454" x2="640.2950000000001" y2="600.9312727272727" stroke="#000" stroke-width="1.8" />
<line x1="636.695" y1="596.7705454545454" x2="643.8950000000001" y2="596.7705454545454" stroke="#000" stroke-width="1.8" />
<line x1="636.695" y1="600.9312727272727" x2="643.8950000000001" y2="600.9312727272727" stroke="#000" stroke-width="1.8" />
<line x1="651.145" y1="572.673" x2="651.145" y2="580.9944545454546" stroke="#000" stroke-width="1.8" />
<line x1="647.545" y1="572.673" x2="654.745" y2="572.673" stroke="#000" stroke-width="1.8" />
<line x1="647.545" y1="580.9944545454546" x2="654.745" y2="580.9944545454546" stroke="#000" stroke-width="1.8" />
<text x="0" y="0" font-size="13.5" font-weight="bold" text-anchor="end" stroke="#000" stroke-width="0.3" transform="translate(649.20,706.00) rotate(-45)">R4</text>
<rect x="678.85" y="583.2481818181818" width="10.85" height="105.75181818181818" fill="#00b0f0" stroke="#000" stroke-width="1.9" />
<rect x="689.7" y="570.766" width="10.85" height="118.23400000000004" fill="#ffc000" stroke="#000" stroke-width="1.9" />
<line x1="684.2750000000001" y1="580.6477272727273" x2="684.2750000000001" y2="585.8486363636364" stroke="#000" stroke-width="1.8" />
<line x1="680.6750000000001" y1="580.6477272727273" x2="687.8750000000001" y2="580.6477272727273" stroke="#000" stroke-width="1.8" />
<line x1="680.6750000000001" y1="585.8486363636364" x2="687.8750000000001" y2="585.8486363636364" stroke="#000" stroke-width="1.8" />
<line x1="695.125" y1="561.4043636363637" x2="695.125" y2="580.1276363636364" stroke="#000" stroke-width="1.8" />
<line x1="691.525" y1="561.4043636363637" x2="698.725" y2="561.4043636363637" stroke="#000" stroke-width="1.8" />
<line x1="691.525" y1="580.1276363636364" x2="698.725" y2="580.1276363636364" stroke="#000" stroke-width="1.8" />
<text x="0" y="0" font-size="13.5" font-weight="bold" text-anchor="end" stroke="#000" stroke-width="0.3" transform="translate(692.90,706.50) rotate(-45)">R5</text>
<rect x="722.83" y="527.425090909091" width="10.85" height="161.57490909090905" fill="#00b0f0" stroke="#000" stroke-width="1.9" />
<rect x="733.6800000000001" y="543.3745454545455" width="10.85" height="145.62545454545455" fill="#ffc000" stroke="#000" stroke-width="1.9" />
<line x1="728.2550000000001" y1="526.7316363636364" x2="728.2550000000001" y2="528.1185454545455" stroke="#000" stroke-width="1.8" />
<line x1="724.6550000000001" y1="526.7316363636364" x2="731.8550000000001" y2="526.7316363636364" stroke="#000" stroke-width="1.8" />
<line x1="724.6550000000001" y1="528.1185454545455" x2="731.8550000000001" y2="528.1185454545455" stroke="#000" stroke-width="1.8" />
<line x1="739.105" y1="531.9325454545454" x2="739.105" y2="554.8165454545455" stroke="#000" stroke-width="1.8" />
<line x1="735.505" y1="531.9325454545454" x2="742.705" y2="531.9325454545454" stroke="#000" stroke-width="1.8" />
<line x1="735.505" y1="554.8165454545455" x2="742.705" y2="554.8165454545455" stroke="#000" stroke-width="1.8" />
<text x="0" y="0" font-size="13.5" font-weight="bold" text-anchor="end" stroke="#000" stroke-width="0.3" transform="translate(736.70,706.00) rotate(-45)">R6</text>
<path d="M447.9,689 V498.3 H755.4 V689" fill="none" stroke="#000" stroke-width="2"/>
<line x1="446.9" y1="689" x2="756.4" y2="689" stroke="#000" stroke-width="2.2" />
<line x1="443.7" y1="689.0" x2="447.9" y2="689.0" stroke="#000" stroke-width="2" />
<text x="424.72" y="693.35" font-family="Liberation Sans" font-size="12.4" font-weight="bold" fill="#000" textLength="7.48" lengthAdjust="spacingAndGlyphs" stroke="#000" stroke-width="0.25" >0</text>
<line x1="443.7" y1="671.6636363636363" x2="447.9" y2="671.6636363636363" stroke="#000" stroke-width="2" />
<text x="417.85" y="676.01" font-family="Liberation Sans" font-size="12.4" font-weight="bold" fill="#000" textLength="14.35" lengthAdjust="spacingAndGlyphs" stroke="#000" stroke-width="0.25" >10</text>
<line x1="443.7" y1="654.3272727272728" x2="447.9" y2="654.3272727272728" stroke="#000" stroke-width="2" />
<text x="417.87" y="658.68" font-family="Liberation Sans" font-size="12.4" font-weight="bold" fill="#000" textLength="14.33" lengthAdjust="spacingAndGlyphs" stroke="#000" stroke-width="0.25" >20</text>
<line x1="443.7" y1="636.9909090909091" x2="447.9" y2="636.9909090909091" stroke="#000" stroke-width="2" />
<text x="417.87" y="641.34" font-family="Liberation Sans" font-size="12.4" font-weight="bold" fill="#000" textLength="14.32" lengthAdjust="spacingAndGlyphs" stroke="#000" stroke-width="0.25" >30</text>
<line x1="443.7" y1="619.6545454545454" x2="447.9" y2="619.6545454545454" stroke="#000" stroke-width="2" />
<text x="417.87" y="624.0" font-family="Liberation Sans" font-size="12.4" font-weight="bold" fill="#000" textLength="14.32" lengthAdjust="spacingAndGlyphs" stroke="#000" stroke-width="0.25" >40</text>
<line x1="443.7" y1="602.3181818181818" x2="447.9" y2="602.3181818181818" stroke="#000" stroke-width="2" />
<text x="417.87" y="606.67" font-family="Liberation Sans" font-size="12.4" font-weight="bold" fill="#000" textLength="14.33" lengthAdjust="spacingAndGlyphs" stroke="#000" stroke-width="0.25" >50</text>
<line x1="443.7" y1="584.9818181818182" x2="447.9" y2="584.9818181818182" stroke="#000" stroke-width="2" />
<text x="417.86" y="589.33" font-family="Liberation Sans" font-size="12.4" font-weight="bold" fill="#000" textLength="14.33" lengthAdjust="spacingAndGlyphs" stroke="#000" stroke-width="0.25" >60</text>
<line x1="443.7" y1="567.6454545454545" x2="447.9" y2="567.6454545454545" stroke="#000" stroke-width="2" />
<text x="417.86" y="572.0" font-family="Liberation Sans" font-size="12.4" font-weight="bold" fill="#000" textLength="14.33" lengthAdjust="spacingAndGlyphs" stroke="#000" stroke-width="0.25" >70</text>
<line x1="443.7" y1="550.3090909090909" x2="447.9" y2="550.3090909090909" stroke="#000" stroke-width="2" />
<text x="417.87" y="554.66" font-family="Liberation Sans" font-size="12.4" font-weight="bold" fill="#000" textLength="14.33" lengthAdjust="spacingAndGlyphs" stroke="#000" stroke-width="0.25" >80</text>
<line x1="443.7" y1="532.9727272727273" x2="447.9" y2="532.9727272727273" stroke="#000" stroke-width="2" />
<text x="417.87" y="537.32" font-family="Liberation Sans" font-size="12.4" font-weight="bold" fill="#000" textLength="14.33" lengthAdjust="spacingAndGlyphs" stroke="#000" stroke-width="0.25" >90</text>
<line x1="443.7" y1="515.6363636363636" x2="447.9" y2="515.6363636363636" stroke="#000" stroke-width="2" />
<text x="410.95" y="519.99" font-family="Liberation Sans" font-size="12.4" font-weight="bold" fill="#000" textLength="21.22" lengthAdjust="spacingAndGlyphs" stroke="#000" stroke-width="0.25" >100</text>
<line x1="443.7" y1="498.3" x2="447.9" y2="498.3" stroke="#000" stroke-width="2" />
<text x="411.63" y="502.65" font-family="Liberation Sans" font-size="12.4" font-weight="bold" fill="#000" textLength="20.54" lengthAdjust="spacingAndGlyphs" stroke="#000" stroke-width="0.25" >110</text>
<line x1="491.6" y1="685.5" x2="491.6" y2="689" stroke="#000" stroke-width="2" />
<line x1="535.6" y1="685.5" x2="535.6" y2="689" stroke="#000" stroke-width="2" />
<line x1="579.6" y1="685.5" x2="579.6" y2="689" stroke="#000" stroke-width="2" />
<line x1="623.6" y1="685.5" x2="623.6" y2="689" stroke="#000" stroke-width="2" />
<line x1="667.6" y1="685.5" x2="667.6" y2="689" stroke="#000" stroke-width="2" />
<line x1="711.6" y1="685.5" x2="711.6" y2="689" stroke="#000" stroke-width="2" />
<rect x="511.3" y="514.9" width="6.5" height="6.0" fill="#00b0f0" stroke="#000" stroke-width="1.9" />
<text x="521.62" y="521.6" font-family="Liberation Sans" font-size="13" font-weight="bold" fill="#000" textLength="90.38" lengthAdjust="spacingAndGlyphs" stroke="#000" stroke-width="0.25" >Genome-scale</text>
<rect x="627.6" y="514.7" width="6.3" height="6.0" fill="#ffc000" stroke="#000" stroke-width="1.9" />
<text x="635.85" y="521.5" font-family="Liberation Sans" font-size="13" font-weight="bold" fill="#000" textLength="89.14" lengthAdjust="spacingAndGlyphs" stroke="#000" stroke-width="0.25" >Plasmid-scale</text>
<text x="0" y="0" font-size="13" font-weight="bold" fill="#000" textLength="196.54" lengthAdjust="spacingAndGlyphs" transform="translate(401.6,686.09) rotate(-90)">Relative eGFP fluorescence (%)</text>
</svg></body></html>
